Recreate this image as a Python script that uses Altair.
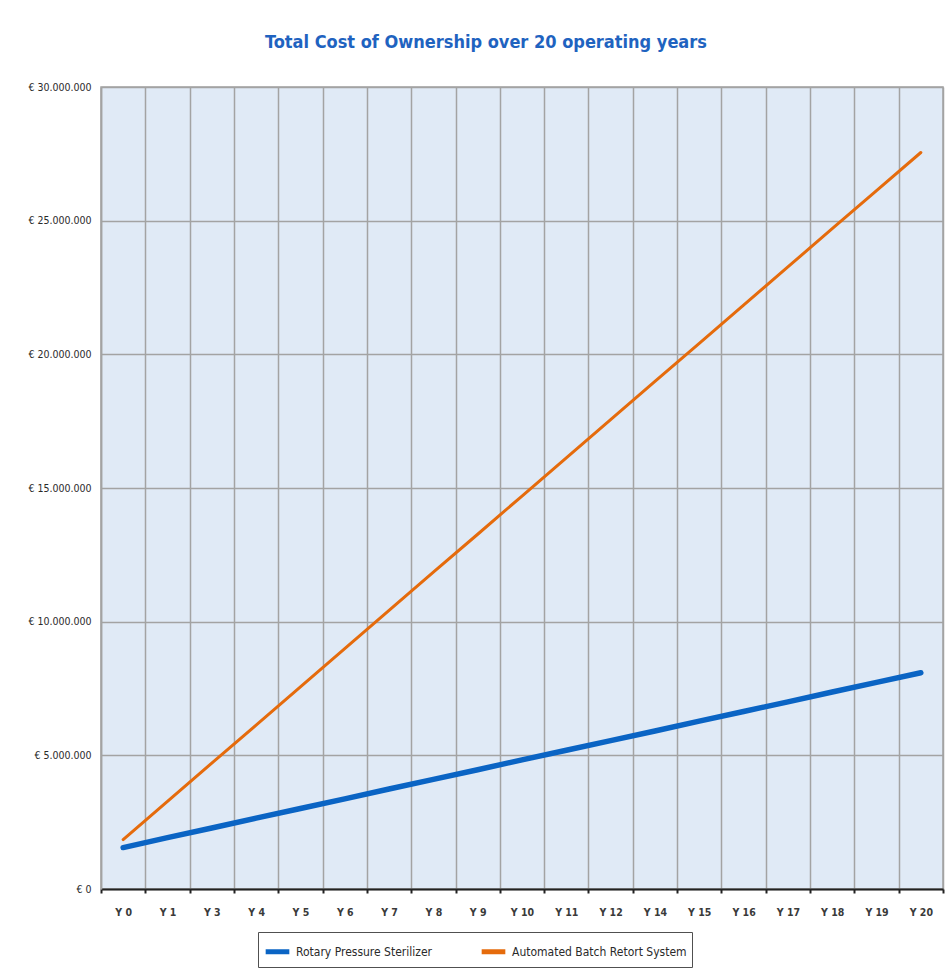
import altair as alt
import pandas as pd

# Operating years shown on the category axis
years = ["Y 0", "Y 1", "Y 3", "Y 4", "Y 5", "Y 6", "Y 7", "Y 8", "Y 9", "Y 10",
         "Y 11", "Y 12", "Y 14", "Y 15", "Y 16", "Y 17", "Y 18", "Y 19", "Y 20"]

# Cumulative cost of ownership in euros
rotary = [1550000, 1920000, 2280000, 2650000, 3010000, 3370000, 3740000, 4100000,
          4460000, 4830000, 5190000, 5550000, 5910000, 6280000, 6640000, 7000000,
          7370000, 7730000, 8090000]
batch = [1850000, 3280000, 4710000, 6130000, 7560000, 8990000, 10420000, 11850000,
         13270000, 14700000, 16130000, 17560000, 18990000, 20410000, 21840000,
         23270000, 24700000, 26120000, 27550000]

series_names = ["Rotary Pressure Sterilizer", "Automated Batch Retort System"]
series_colors = ["#0A64C4", "#E56B0C"]

df = pd.concat([
    pd.DataFrame({"year": years, "cost": rotary, "system": series_names[0], "w": 5.5}),
    pd.DataFrame({"year": years, "cost": batch, "system": series_names[1], "w": 3}),
])

FONT = "DejaVu Sans Condensed, Liberation Sans Narrow, sans-serif"

x = alt.X(
    "year:N", sort=years, title=None,
    scale=alt.Scale(type="band", paddingInner=0, paddingOuter=0),
    axis=alt.Axis(
        tickBand="extent", grid=True, gridColor="#A3A3A3", gridWidth=1.5,
        domainColor="#222222", domainWidth=2, tickColor="#222222", tickSize=4,
        tickWidth=2, labelAngle=0, labelFontSize=10.5, labelFontWeight="bold",
        labelColor="#3A3A3A", labelPadding=14, labelFont=FONT,
    ),
)
y = alt.Y(
    "cost:Q", title=None,
    scale=alt.Scale(domain=[0, 30000000], nice=False),
    axis=alt.Axis(
        values=[0, 5000000, 10000000, 15000000, 20000000, 25000000, 30000000],
        labelExpr="'€ ' + replace(format(datum.value, ',.0f'), /,/g, '.')",
        grid=True, gridColor="#A3A3A3", gridWidth=1.5, ticks=False,
        domainColor="#A3A3A3", domainWidth=1.5, labelFontSize=10.5,
        labelColor="#2A2A2A", labelPadding=10, labelFont=FONT,
    ),
)

chart = alt.Chart(df).mark_line(strokeCap="round").encode(
    x=x,
    y=y,
    color=alt.Color(
        "system:N", sort=series_names,
        scale=alt.Scale(domain=series_names, range=series_colors),
        legend=alt.Legend(
            title=None, orient="none", legendX=157, legendY=845,
            direction="horizontal", symbolType="stroke", symbolStrokeWidth=5,
            symbolSize=560, labelFontSize=12, labelColor="#2A2A2A",
            labelFont=FONT, strokeColor="#505050", fillColor="white",
            padding=5, columnPadding=38, labelLimit=300,
        ),
    ),
    strokeWidth=alt.StrokeWidth("w:Q", scale=None, legend=None),
).properties(
    width=842,
    height=802,
    background="white",
    autosize=alt.AutoSizeParams(type="none"),
    padding={"left": 101, "top": 87, "right": 7, "bottom": 84},
    title=alt.TitleParams(
        "Total Cost of Ownership over 20 operating years",
        font=FONT, fontSize=18, fontWeight="bold", color="#1F63C0",
        anchor="middle", dx=-36, offset=30,
    ),
).configure_view(
    fill="#E0EAF6", stroke="#A3A3A3", strokeWidth=1.5,
)

chart.save("out.html", embed_options={"renderer": "svg", "actions": False})
